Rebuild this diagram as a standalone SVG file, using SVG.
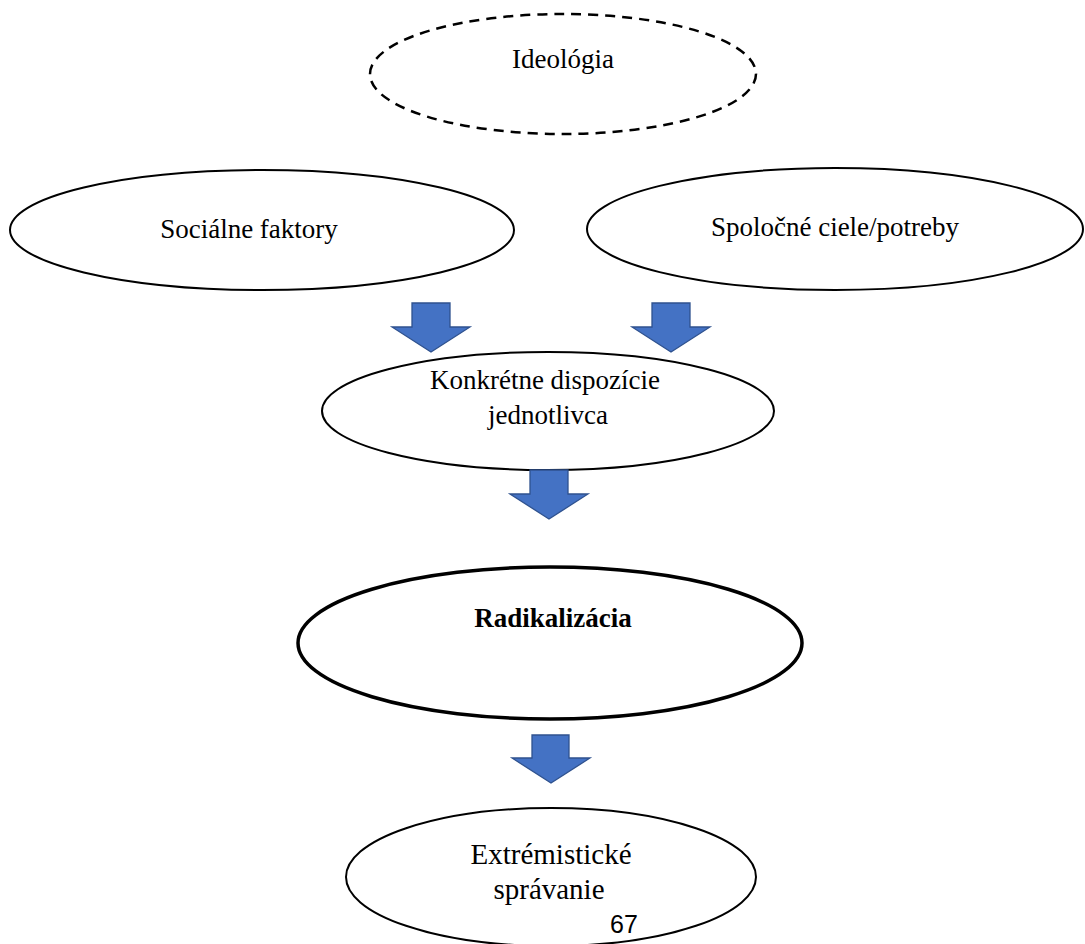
<svg xmlns="http://www.w3.org/2000/svg" width="1085" height="944" viewBox="0 0 1085 944">
<style>
.n{fill:#fff;stroke:#000;stroke-width:2}
.t{font-family:"Liberation Serif","Times New Roman",serif;font-size:27px;fill:#000;text-anchor:middle}
.t2{font-family:"Liberation Serif","Times New Roman",serif;font-size:29px;fill:#000;text-anchor:middle}
.a{fill:#4472C4;stroke:#2F528F;stroke-width:1.3}
</style>
<rect width="1085" height="944" fill="#fff"/>
<g id="ideologia">
<ellipse cx="563" cy="74" rx="193" ry="60" fill="#fff" stroke="#000" stroke-width="2.5" stroke-dasharray="10 7"/>
<text class="t" x="563" y="68">Ideológia</text>
</g>
<g id="socialne">
<ellipse class="n" cx="262" cy="230" rx="252" ry="60"/>
<text class="t" x="249" y="238">Sociálne faktory</text>
</g>
<g id="spolocne">
<ellipse class="n" cx="835" cy="229" rx="248" ry="61"/>
<text class="t" x="835" y="236">Spoločné ciele/potreby</text>
</g>
<g id="konkretne">
<ellipse class="n" cx="548" cy="411" rx="226" ry="59"/>
<text class="t" x="545" y="389">Konkrétne dispozície</text>
<text class="t" x="548" y="424">jednotlivca</text>
</g>
<g id="radikalizacia">
<ellipse cx="550" cy="643" rx="252" ry="76" fill="#fff" stroke="#000" stroke-width="3.5"/>
<text class="t" x="553" y="627" font-weight="bold">Radikalizácia</text>
</g>
<g id="extremisticke">
<ellipse class="n" cx="551" cy="877" rx="205" ry="69"/>
<text class="t2" x="551" y="864">Extrémistické</text>
<text class="t2" x="549" y="899">správanie</text>
<text x="624" y="933" font-family="Liberation Sans,Arial,sans-serif" font-size="25" text-anchor="middle">67</text>
</g>
<g id="connectors">
<polygon class="a" points="412,303 450,303 450,327 470,327 431,352 392,327 412,327"/>
<polygon class="a" points="652,303 690,303 690,327 710,327 671,352 632,327 652,327"/>
<polygon class="a" points="530,470 568,470 568,494 588,494 549,519 510,494 530,494"/>
<polygon class="a" points="532,735 569,735 569,758 590,758 551,783 512,758 532,758"/>
</g>
</svg>
